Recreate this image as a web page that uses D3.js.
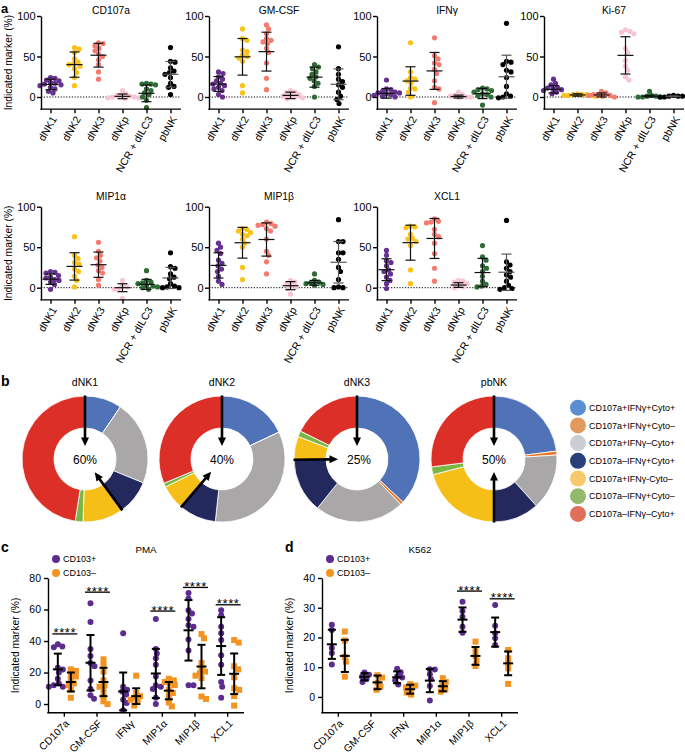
<!DOCTYPE html>
<html><head><meta charset="utf-8">
<script src="https://cdn.jsdelivr.net/npm/d3@7"></script>
<style>body{margin:0;background:#fff}svg{display:block}</style>
</head><body><svg id="chart" width="685" height="754"></svg>
<script>
// ---------- Panel a data ----------
const groupsA = ["dNK1","dNK2","dNK3","dNKp","NCR + dILC3","pbNK"];
const colorsA = ["#65318f","#f8c21a","#f37b6f","#f7c6d3","#2f6b36","#000000"];
const yTicksA = [0,50,100];
const titlesA = ["CD107a","GM-CSF","IFNγ","Ki-67","MIP1α","MIP1β","XCL1"];

const ptsCD107a = [[24,23,21,20,18,17,16,15,14,12,10,7,5],[61,59,55,47,43,41,40,38,35,30,24,14],[67,66,63,60,57,53,50,46,40,31,22],[8,4,2,1,0,-1,-2,2,0,-1],[17,16,16,15,10,8,5,3,0,-4,-13],[61,44,43,36,32,30,28,24,17,13,12,3]];
const meanCD107a = [15.5,40,51.6,0.8,4.5,28];
const sdCD107a = [6.5,15.6,14.7,2.9,10.3,15.8];

const ptsGMCSF = [[31,29,25,22,20,17,16,14,12,10,8,3,0],[84,72,70,58,56,52,50,48,44,14,5],[89,84,78,72,70,68,66,60,55,42,23,9],[8,6,3,2,1,0,-2,5,-1],[40,37,35,31,28,25,23,20,17,13,0],[62,35,28,22,19,15,12,6,1,-3,-8]];
const meanGMCSF = [16,49.6,56,2,24.5,15.7];
const sdGMCSF = [9.2,22.6,24,4,12.4,19];

const ptsIFNg = [[21,10,9,7,6,5,5,4,3,2,1,0],[67,31,24,22,20,17,11,10,6,0],[73,51,47,42,40,34,29,20,12,10,-7],[6,3,1,0,-1,0,2],[11,10,9,8,6,4,3,2,0,-10],[91,44,43,40,33,31,24,13,4,0,-1,1]];
const meanIFNg = [4.5,19.7,32.2,0.5,4.3,25];
const sdIFNg = [6,17.6,22.8,1.8,6.3,26.6];

const ptsKi67 = [[22,17,15,12,11,10,9,8,6,4],[4,3,3,3,2,2,1,2],[7,5,3,2,1,0,2,3],[83,81,80,78,60,55,45,38,33,25,21],[7,2,1,0,0,1,0],[2,1,1,0,0,1,0]];
const meanKi67 = [9.5,2.5,2.5,51.4,1,0.8];
const sdKi67 = [4.5,1.5,2.5,23,1,0.5];

const ptsMIP1a = [[20,19,18,15,13,12,10,9,7,4,-2],[63,40,36,31,29,23,20,14,9,1],[56,45,40,37,33,28,25,21,18,10,3],[9,3,1,-1,-2,-13],[21,9,7,6,5,3,2,1,0,-2],[43,26,24,17,13,11,5,2,1,0,0]];
const meanMIP1a = [10.5,26.3,28.4,0,4.1,12];
const sdMIP1a = [6.4,16.9,15.6,4.9,6.2,13];

const ptsMIP1b = [[55,50,46,42,34,30,27,23,20,14,8,4],[73,72,70,68,66,64,60,55,50,25,10],[81,79,78,77,76,73,70,60,45,40,32,17],[9,7,5,3,1,-1,-8],[17,9,7,6,5,4,3],[84,57,57,43,43,35,25,20,10,1,0,0]];
const meanMIP1b = [27.5,55.5,59.5,2.5,6,31.4];
const sdMIP1b = [15.6,19,20.5,5,3,25.6];

const ptsXCL1 = [[46,40,33,31,27,22,20,17,13,9,5,-1],[76,75,74,66,61,60,57,52,22,5],[85,82,81,80,72,66,63,55,42,24,8],[9,8,7,5,3,1,0],[52,38,34,27,24,20,14,8,4,2,1],[83,32,28,24,20,16,13,8,3,0,-1,-2]];
const meanXCL1 = [22.2,55.6,60.8,3.3,18.7,19.1];
const sdXCL1 = [13.5,21.6,24.7,2.9,17.5,22.4];

// ---------- Panel b data ----------
const donutGroups = ["dNK1","dNK2","dNK3","pbNK"];
const donutPct = ["60%","40%","25%","50%"];
const donutCats = ["CD107a+IFNγ+Cyto+","CD107a+IFNγ+Cyto–","CD107a+IFNγ–Cyto+","CD107a–IFNγ+Cyto+","CD107a+IFNγ-Cyto–","CD107a–IFNγ+Cyto–","CD107a–IFNγ–Cyto+"];
const donutColors = ["#5073b8","#e8792b","#a9a7a8","#23285d","#f6bf18","#7bb843","#db2f27"];
const legendColors = ["#5b8ed0","#e39a5f","#cccdd3","#283f78","#f5c96c","#93b96c","#e0705b"];
const pieDNK1 = [9.5,0,21.7,8.8,10.5,2,47.5];
const pieDNK2 = [18,0,33.7,9.5,6.5,1,31.3];
const pieDNK3 = [37,0.8,23,14,6,1.5,17.7];
const piePbNK = [23,1,14.3,11.7,21,2,27];

// ---------- Panels c, d data ----------
const catsCD = ["CD107a","GM-CSF","IFNγ","MIP1α","MIP1β","XCL1"];
const seriesCD = ["CD103+","CD103–"];
const colorsCD = ["#5c2c8f","#f39422"];
const yTicksC = [0,20,40,60,80];
const yTicksD = [0,10,20,30,40];

const cPlus = [[38,36.5,36,23,22,20,16,13,12,11,11],[64,52,35,30.5,26,24,15,9.5,5.5,3.4],[45,11,9,8,6,2.7,0.6,-4],[54,35,32,29,25,17.5,12,11,9.5,4,0],[70.5,67,59.6,57.5,54,50,49,41,34,12,12],[59.6,56.4,49,45,40.6,31,25,14,11,4]];
const cMinus = [[22,21,18.5,17.5,15.4,13,12,9,4],[28.4,25,20.6,15,12,11,9,5,1.7,0],[18,7,5,4,2.7,1.3,-1],[16,15,14,13,12,9,7,5,1,-1.5],[44.4,41.7,26,22.7,20.6,19.6,18,16.4,4.8,3.2],[40.6,39,24,22,17,10,9,5,-1]];
const cPlusMean = [22,26.2,8,19.4,46.8,36.8];
const cPlusSd = [10,17.6,12,15.6,19.2,18.3];
const cMinusMean = [14,14,5,8.5,23.8,19.2];
const cMinusSd = [6,9,5,5.5,13.8,12.9];
const cSig = [44.5,71,null,59,74,63];

const dPlus = [[24.3,22.5,16.5,14.8,10.9],[8.2,7.5,6.8,6,5],[9.5,8.3,7,6.5,5.5,4.2],[9.3,9.2,7.6,6,3.7,-1.2],[32,28.9,27,23.6,21.6],[30.9,23.9,21.4,19.7,17.5]];
const dMinus = [[22,19,13.5,11.9,6.8],[7.3,6.5,4.8,3.5,2.4],[4.3,3.8,3.2,2.5,1.5,0.8],[6.3,5,3.8,2.5,1.8],[18.6,15.8,13.8,12.2,10.4],[15.8,13,11.3,9.6,4.4]];
const dPlusMean = [17.7,6.8,6.6,5.5,26,21.8];
const dPlusSd = [4.9,1.2,2,3.9,4.1,4.9];
const dMinusMean = [13.8,4.9,2.6,3.6,13.8,11.3];
const dMinusSd = [5.4,2.3,1.5,1.7,3,4];
const dSig = [null,null,null,null,35.6,33];

// ---------- Drawing ----------
const FONT = '"Liberation Sans", Arial, Helvetica, sans-serif';
const svg = d3.select("#chart").attr("font-family", FONT);

function swarm(vals, y, r, f) {
  const items = vals.map(v => ({v, y: y(v)})).sort((a, b) => a.y - b.y);
  const placed = [];
  const md = (2 * r * f) ** 2;
  items.forEach(it => {
    let best = 0;
    for (let k = 0; k < 400; k++) {
      const cand = (k % 2 ? 1 : -1) * Math.ceil(k / 2) * 0.5;
      if (placed.every(p => (p.dx - cand) ** 2 + (p.y - it.y) ** 2 >= md)) { best = cand; break; }
    }
    it.dx = best; placed.push(it);
  });
  return items;
}

function errBar(g, cx, y, m, s, capW, meanW, sw, color) {
  const st = l => l.attr("stroke", color).attr("stroke-width", sw);
  st(g.append("line").attr("x1", cx).attr("x2", cx).attr("y1", y(m - s)).attr("y2", y(m + s)));
  [m - s, m + s].forEach(v => st(g.append("line").attr("x1", cx - capW).attr("x2", cx + capW).attr("y1", y(v)).attr("y2", y(v))));
  st(g.append("line").attr("x1", cx - meanW).attr("x2", cx + meanW).attr("y1", y(m)).attr("y2", y(m)));
}

function styleAxis(ax, fs) {
  ax.selectAll("path,line").attr("stroke", "#000").attr("stroke-width", 1.4);
  ax.selectAll("text").attr("font-size", fs).attr("font-family", FONT).attr("fill", "#000");
}

function drawA(p) {
  const {x0, yTop, titleY, title, pts, mean, sd, ylab} = p;
  const y = d3.scaleLinear().domain([-15, 100]).range([yTop + 115 * 0.81, yTop]);
  const yBot = y(-15);
  const x = d3.scalePoint().domain(groupsA).range([x0 + 9.5, x0 + 129.5]);
  const g = svg.append("g");
  g.append("line").attr("x1", x0).attr("x2", x0 + 140).attr("y1", y(0)).attr("y2", y(0))
    .attr("stroke", "#000").attr("stroke-width", 1).attr("stroke-dasharray", "1.2,1.6");
  groupsA.forEach((gr, i) => {
    swarm(pts[i], y, 2.6, 0.85).forEach(d => {
      g.append("circle").attr("cx", x(gr) + d.dx).attr("cy", d.y).attr("r", 2.6).attr("fill", colorsA[i]);
    });
  });
  groupsA.forEach((gr, i) => errBar(g, x(gr), y, mean[i], sd[i], 5, 8, 1.2, i === 5 ? "#555" : "#111"));
  const ya = g.append("g").attr("transform", `translate(${x0},0)`)
    .call(d3.axisLeft(y).tickValues(yTicksA).tickSize(4).tickPadding(1.5).tickSizeOuter(0));
  styleAxis(ya, 11);
  const xa = g.append("g").attr("transform", `translate(0,${yBot})`)
    .call(d3.axisBottom(x).tickSize(4).tickSizeOuter(0));
  xa.select(".domain").remove();
  styleAxis(xa, 10.5);
  xa.selectAll("text").attr("text-anchor", "end").attr("x", 0).attr("y", 0).attr("dy", "0.35em")
    .attr("transform", "translate(3,8) rotate(-60)");
  g.append("line").attr("x1", x0 - 0.7).attr("x2", x0 + 140).attr("y1", yBot).attr("y2", yBot)
    .attr("stroke", "#000").attr("stroke-width", 1.4);
  g.append("text").attr("x", x0 + 70).attr("y", titleY).attr("text-anchor", "middle")
    .attr("font-size", 10.3).text(title);
  if (ylab) {
    g.append("text").attr("transform", `translate(11.5,${(yTop + yBot) / 2}) rotate(-90)`)
      .attr("text-anchor", "middle").attr("font-size", 10.3).text("Indicated marker (%)");
  }
}

const panelsA = [
  {title: titlesA[0], pts: ptsCD107a, mean: meanCD107a, sd: sdCD107a},
  {title: titlesA[1], pts: ptsGMCSF, mean: meanGMCSF, sd: sdGMCSF},
  {title: titlesA[2], pts: ptsIFNg, mean: meanIFNg, sd: sdIFNg},
  {title: titlesA[3], pts: ptsKi67, mean: meanKi67, sd: sdKi67},
  {title: titlesA[4], pts: ptsMIP1a, mean: meanMIP1a, sd: sdMIP1a},
  {title: titlesA[5], pts: ptsMIP1b, mean: meanMIP1b, sd: sdMIP1b},
  {title: titlesA[6], pts: ptsXCL1, mean: meanXCL1, sd: sdXCL1}
];
const colX = [41, 209, 377, 544];
panelsA.forEach((p, i) => {
  const row = Math.floor(i / 4), col = i % 4;
  drawA(Object.assign({}, p, {
    x0: colX[col], yTop: row === 0 ? 16 : 206.7, titleY: row === 0 ? 13.5 : 200, ylab: col === 0
  }));
});

// ---------- Panel b ----------
const arc = d3.arc().innerRadius(31).outerRadius(63);
const pie = d3.pie().sort(null).value(d => d);
const donutData = [pieDNK1, pieDNK2, pieDNK3, piePbNK];
const donutCx = [85, 222, 357, 494], donutCy = 459;

function arrow(g, a) {
  const s = Math.sin(a), c = -Math.cos(a);
  const R0 = 63.5, tip = 13 + 6 * Math.abs(s), hl = 8.5, hw = 4;
  g.append("line").attr("x1", R0 * s).attr("y1", R0 * c).attr("x2", (tip + hl - 1) * s).attr("y2", (tip + hl - 1) * c)
    .attr("stroke", "#000").attr("stroke-width", 2.6);
  const bx = (tip + hl) * s, by = (tip + hl) * c;
  const px = -c, py = s;
  g.append("path").attr("d", `M${tip * s},${tip * c}L${bx + hw * px},${by + hw * py}L${bx - hw * px},${by - hw * py}Z`)
    .attr("fill", "#000");
}

donutData.forEach((vals, i) => {
  const cx = donutCx[i];
  const g = svg.append("g").attr("transform", `translate(${cx},${donutCy})`);
  g.selectAll("path.seg").data(pie(vals)).join("path").attr("class", "seg").attr("d", arc)
    .attr("fill", (d, j) => donutColors[j]).attr("stroke", "#fff").attr("stroke-width", 0.8);
  const a2 = 2 * Math.PI * d3.sum(vals.slice(0, 4)) / d3.sum(vals);
  arrow(g, 0); arrow(g, a2);
  g.append("text").attr("text-anchor", "middle").attr("x", i === 2 ? 2 : 0).attr("y", 4.5).attr("font-size", 12).text(donutPct[i]);
  svg.append("text").attr("x", cx).attr("y", 386).attr("text-anchor", "middle").attr("font-size", 10.5).text(donutGroups[i]);
});

donutCats.forEach((c, i) => {
  const yy = 407.7 + i * 17.7;
  svg.append("circle").attr("cx", 578).attr("cy", yy).attr("r", 8).attr("fill", legendColors[i]);
  svg.append("text").attr("x", 589).attr("y", yy + 3.2).attr("font-size", 9).text(c);
});

// ---------- Panels c, d ----------
function drawCD(p) {
  const {x0, dom, ticks, title, plus, minus, pm, ps, mm, ms, sig} = p;
  const yTop = 578, yBot = 712.7;
  const y = d3.scaleLinear().domain(dom).range([yBot, yTop]);
  const x = d3.scaleBand().domain(catsCD).range([x0, x0 + 196]);
  const g = svg.append("g");
  catsCD.forEach((c, i) => {
    const cx = x(c) + x.bandwidth() / 2;
    swarm(plus[i], y, 3, 0.8).forEach(d => g.append("circle").attr("cx", cx - 6.5 + d.dx).attr("cy", d.y).attr("r", 3).attr("fill", colorsCD[0]));
    swarm(minus[i], y, 3, 0.8).forEach(d => g.append("rect").attr("x", cx + 6.5 + d.dx - 3).attr("y", d.y - 3).attr("width", 6).attr("height", 6).attr("fill", colorsCD[1]));
    errBar(g, cx - 6.5, y, pm[i], ps[i], 4, 5, 2, "#000");
    errBar(g, cx + 6.5, y, mm[i], ms[i], 4, 5, 2, "#000");
    if (sig[i] != null) {
      g.append("line").attr("x1", cx - 12).attr("x2", cx + 13).attr("y1", y(sig[i])).attr("y2", y(sig[i]))
        .attr("stroke", "#000").attr("stroke-width", 1.3);
      g.append("text").attr("x", cx + 0.5).attr("y", y(sig[i]) + 3.5).attr("text-anchor", "middle")
        .attr("font-size", 13).attr("letter-spacing", 0.6).text("****");
    }
  });
  const ya = g.append("g").attr("transform", `translate(${x0},0)`)
    .call(d3.axisLeft(y).tickValues(ticks).tickSize(4).tickPadding(3).tickSizeOuter(0));
  styleAxis(ya, 10.5);
  const xa = g.append("g").attr("transform", `translate(0,${yBot})`)
    .call(d3.axisBottom(x).tickSize(4).tickSizeOuter(0));
  xa.select(".domain").remove();
  styleAxis(xa, 10.3);
  xa.selectAll("text").attr("text-anchor", "end").attr("x", 0).attr("y", 0).attr("dy", "0.35em")
    .attr("transform", "translate(3,9) rotate(-45)");
  g.append("line").attr("x1", x0 - 0.7).attr("x2", x0 + 196).attr("y1", yBot).attr("y2", yBot)
    .attr("stroke", "#000").attr("stroke-width", 1.4);
  g.append("text").attr("x", x0 + 98).attr("y", 553).attr("text-anchor", "middle").attr("font-size", 9.8).text(title);
  g.append("text").attr("transform", `translate(${x0 - 29},${(yTop + yBot) / 2}) rotate(-90)`)
    .attr("text-anchor", "middle").attr("font-size", 10.3).text("Indicated marker (%)");
  seriesCD.forEach((s, i) => {
    const yy = 559 + i * 14;
    g.append("circle").attr("cx", x0 + 8).attr("cy", yy).attr("r", 4).attr("fill", colorsCD[i]);
    g.append("text").attr("x", x0 + 15).attr("y", yy + 3.2).attr("font-size", 9).text(s);
  });
}

drawCD({x0: 48, dom: [-5.5, 80], ticks: yTicksC, title: "PMA", plus: cPlus, minus: cMinus,
  pm: cPlusMean, ps: cPlusSd, mm: cMinusMean, ms: cMinusSd, sig: cSig});
drawCD({x0: 322, dom: [-5.3, 40], ticks: yTicksD, title: "K562", plus: dPlus, minus: dMinus,
  pm: dPlusMean, ps: dPlusSd, mm: dMinusMean, ms: dMinusSd, sig: dSig});

// panel letters
[["a", 1, 13, 13], ["b", 1, 386, 14], ["c", 1, 552, 14], ["d", 285, 552, 14]].forEach(([t, x, y, fs]) =>
  svg.append("text").attr("x", x).attr("y", y).attr("font-size", fs).attr("font-weight", "bold").text(t));
</script></body></html>
